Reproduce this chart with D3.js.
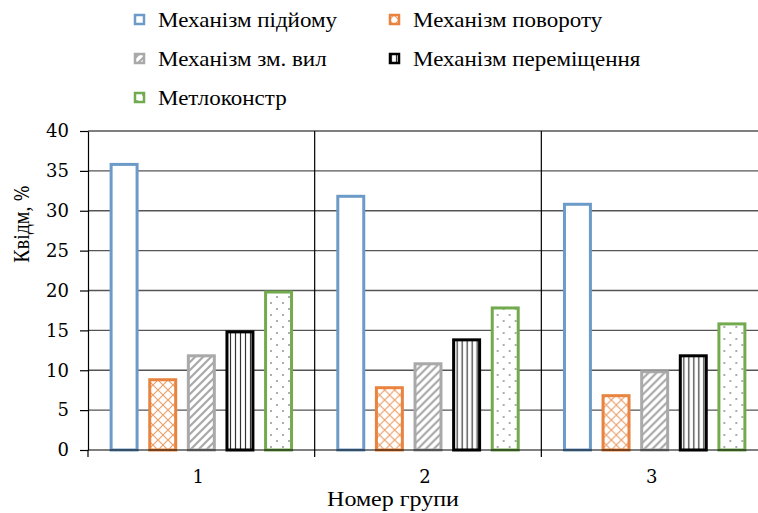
<!DOCTYPE html>
<html>
<head>
<meta charset="utf-8">
<script src="https://cdn.jsdelivr.net/npm/d3@7"></script>
<style>
  body { margin: 0; background: #fff; }
</style>
</head>
<body>
<div id="chart"></div>
<script>
const groups = ["1", "2", "3"];
const series = ["Механізм підйому", "Механізм повороту", "Механізм зм. вил", "Механізм переміщення", "Метлоконстр"];
const values = [
    [36, 9, 12, 15, 20],
    [32, 8, 11, 14, 18],
    [31, 7, 10, 12, 16]
];
const yTicks = [0, 5, 10, 15, 20, 25, 30, 35, 40];
const colors = ["#6C9BC8", "#E8843F", "#A9A9A9", "#000000", "#72AA4E"];
const patterns = ["none", "cross", "diag", "vert", "dots"];

function BuildChart(){
    const width = 758;
    const height = 513;
    const margin = { top: 131, right: -10, bottom: 63, left: 88 };
    const font = '"Liberation Serif", "Times New Roman", serif';
    const numFont = '"DejaVu Serif", serif';
    const svg = d3.select("#chart").append("svg")
        .attr("width", width)
        .attr("height", height);

    const defs = svg.append("defs");
    // orange lattice
    const pc = defs.append("pattern").attr("id", "cross")
        .attr("width", 10).attr("height", 10).attr("patternUnits", "userSpaceOnUse");
    pc.append("rect").attr("width", 10).attr("height", 10).attr("fill", "#fff");
    pc.append("path").attr("d", "M0,0L10,10M10,0L0,10").attr("stroke", "#EBA06B").attr("stroke-width", 1.2);
    // gray diagonals
    const pd = defs.append("pattern").attr("id", "diag")
        .attr("width", 8).attr("height", 8).attr("patternUnits", "userSpaceOnUse");
    pd.append("rect").attr("width", 8).attr("height", 8).attr("fill", "#fff");
    pd.append("path").attr("d", "M-2,2L2,-2M0,8L8,0M6,10L10,6").attr("stroke", "#A9A9A9").attr("stroke-width", 2.2);
    // black vertical lines
    const pv = defs.append("pattern").attr("id", "vert")
        .attr("width", 5).attr("height", 5).attr("patternUnits", "userSpaceOnUse");
    pv.append("rect").attr("width", 5).attr("height", 5).attr("fill", "#fff");
    pv.append("path").attr("d", "M2.5,0L2.5,5").attr("stroke", "#333").attr("stroke-width", 1.2);
    // green dots
    const pp = defs.append("pattern").attr("id", "dots")
        .attr("width", 12).attr("height", 12).attr("patternUnits", "userSpaceOnUse");
    pp.append("rect").attr("width", 12).attr("height", 12).attr("fill", "#fff");
    pp.append("circle").attr("cx", 3).attr("cy", 3).attr("r", 0.8).attr("fill", "#444");
    pp.append("circle").attr("cx", 9).attr("cy", 9).attr("r", 0.8).attr("fill", "#444");

    const fillOf = i => patterns[i] === "none" ? "#fff" : `url(#${patterns[i]})`;

    const x0 = d3.scaleBand()
        .domain(groups)
        .range([margin.left, width - margin.right]);
    const x1 = d3.scaleBand()
        .domain(series)
        .range([0, x0.bandwidth()])
        .paddingInner(0.25)
        .paddingOuter(0.56);
    const y = d3.scaleLinear()
        .domain([0, 40])
        .range([height - margin.bottom, margin.top]);

    // horizontal gridlines
    svg.append("g")
        .selectAll("line")
        .data(yTicks.slice(1))
        .enter()
        .append("line")
        .attr("x1", margin.left).attr("x2", width - margin.right)
        .attr("y1", d => y(d)).attr("y2", d => y(d))
        .attr("stroke", "#555").attr("stroke-width", 1.3);

    // vertical category separators
    svg.append("g")
        .selectAll("line")
        .data(groups.slice(1))
        .enter()
        .append("line")
        .attr("x1", d => x0(d)).attr("x2", d => x0(d))
        .attr("y1", y(40)).attr("y2", y(0) + 7)
        .attr("stroke", "#000").attr("stroke-width", 1.2);

    // bars
    const g = svg.append("g")
        .selectAll("g")
        .data(values)
        .enter()
        .append("g")
        .attr("transform", (d, i) => `translate(${x0(groups[i])},0)`);
    g.selectAll("rect")
        .data(d => d)
        .enter()
        .append("rect")
        .attr("x", (d, i) => x1(series[i]) + 1.5)
        .attr("y", d => y(d) + 1.5)
        .attr("width", x1.bandwidth() - 3)
        .attr("height", d => y(0) - y(d) - 1.5)
        .attr("fill", (d, i) => fillOf(i))
        .attr("stroke", (d, i) => colors[i])
        .attr("stroke-width", 3);

    // y axis
    const yAxis = svg.append("g")
        .attr("transform", `translate(${margin.left},0)`)
        .call(d3.axisLeft(y).tickValues(yTicks).tickSize(8).tickPadding(11).tickSizeOuter(0));
    yAxis.select(".domain").attr("stroke", "#000").attr("stroke-width", 1.2);
    yAxis.selectAll(".tick line").attr("stroke", "#000").attr("stroke-width", 1.2);

    // x axis
    svg.append("line")
        .attr("x1", margin.left).attr("x2", width)
        .attr("y1", y(0)).attr("y2", y(0))
        .attr("stroke", "#000").attr("stroke-width", 1.2);
    svg.append("line")
        .attr("x1", margin.left).attr("x2", margin.left)
        .attr("y1", y(0)).attr("y2", y(0) + 7)
        .attr("stroke", "#000").attr("stroke-width", 1.2);
    const xLabels = svg.append("g")
        .selectAll("text")
        .data(groups)
        .enter()
        .append("text")
        .attr("x", d => x0(d) + x0.bandwidth() / 2 - 3)
        .attr("y", 483)
        .attr("text-anchor", "middle")
        .text(d => d);

    svg.append("text")
        .attr("transform", "translate(393,506) scale(1.2,1)")
        .attr("text-anchor", "middle")
        .style("font-size", "20px")
        .style("font-family", font)
        .text("Номер групи");

    const yt = svg.append("text")
        .attr("transform", "translate(29,224) rotate(-90) scale(1,1.15)")
        .attr("text-anchor", "middle")
        .style("font-size", "20px")
        .style("font-family", font);
    yt.append("tspan").text("Квідм, ");
    yt.append("tspan").style("font-family", numFont).style("font-size", "17px").text("%");

    // legend
    const legendPos = [[134, 20], [389, 20], [134, 59], [389, 59], [134, 98]];
    const lg = svg.append("g")
        .selectAll("g")
        .data(series)
        .enter()
        .append("g")
        .attr("transform", (d, i) => `translate(${legendPos[i][0]},${legendPos[i][1]})`);
    lg.append("rect")
        .attr("x", 1).attr("y", -5)
        .attr("width", 9).attr("height", 9)
        .attr("fill", (d, i) => fillOf(i))
        .attr("stroke", (d, i) => colors[i])
        .attr("stroke-width", 2.5);
    lg.append("text")
        .attr("transform", "translate(24,7) scale(1.15,1)")
        .style("font-size", "20px")
        .style("font-family", font)
        .text(d => d);

    yAxis.selectAll("text").style("font-size", "18px").style("font-family", numFont);
    xLabels.style("font-size", "18px").style("font-family", numFont);
    svg.selectAll("text").attr("fill", "#000");
}

BuildChart();
</script>
</body>
</html>
